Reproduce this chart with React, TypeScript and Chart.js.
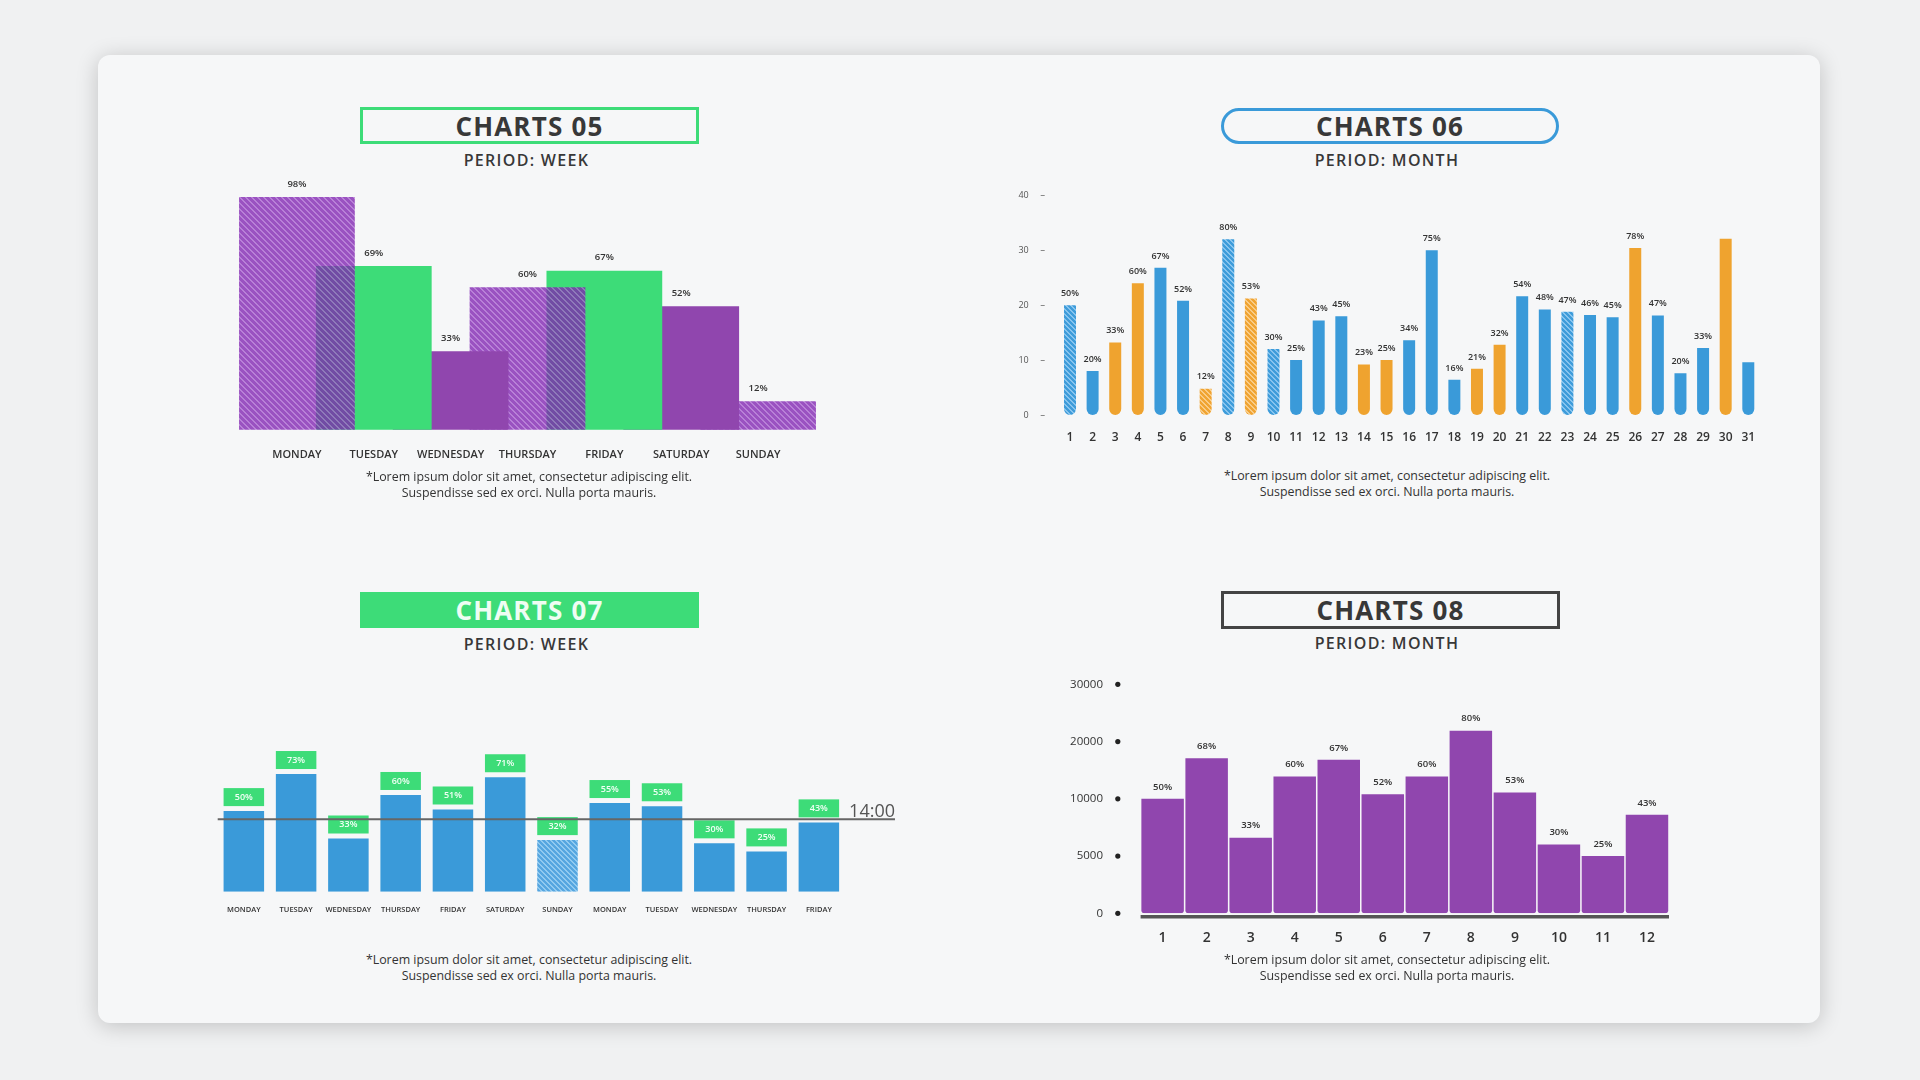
import React, { useEffect, useRef } from "react";
import { Chart, registerables } from "chart.js";

Chart.register(...registerables);

const FONT = "'Open Sans', 'Noto Sans', sans-serif";

// ---------- CHARTS 05 ----------
const days05 = ["MONDAY", "TUESDAY", "WEDNESDAY", "THURSDAY", "FRIDAY", "SATURDAY", "SUNDAY"];
const values05 = [98, 69, 33, 60, 67, 52, 12];
const kind05 = ["hatch", "green", "solid", "hatch", "green", "solid", "hatch"];

// ---------- CHARTS 06 ----------
const days06 = ["1", "2", "3", "4", "5", "6", "7", "8", "9", "10", "11", "12", "13", "14", "15", "16", "17", "18", "19", "20", "21", "22", "23", "24", "25", "26", "27", "28", "29", "30", "31"];
const values06 = [20, 8, 13.2, 24, 26.8, 20.8, 4.8, 32, 21.2, 12, 10, 17.2, 18, 9.2, 10, 13.6, 30, 6.4, 8.4, 12.8, 21.6, 19.2, 18.8, 18.2, 17.8, 30.4, 18.1, 7.6, 12.2, 32.1, 9.6];
const pct06 = ["50%", "20%", "33%", "60%", "67%", "52%", "12%", "80%", "53%", "30%", "25%", "43%", "45%", "23%", "25%", "34%", "75%", "16%", "21%", "32%", "54%", "48%", "47%", "46%", "45%", "78%", "47%", "20%", "33%", "", ""];
const kind06 = ["bh", "b", "o", "o", "b", "b", "oh", "bh", "oh", "bh", "b", "b", "b", "o", "o", "b", "b", "b", "o", "o", "b", "b", "bh", "b", "b", "o", "b", "b", "b", "o", "b"];
const yTicks06 = [0, 10, 20, 30, 40];

// ---------- CHARTS 07 ----------
const days07 = ["MONDAY", "TUESDAY", "WEDNESDAY", "THURSDAY", "FRIDAY", "SATURDAY", "SUNDAY", "MONDAY", "TUESDAY", "WEDNESDAY", "THURSDAY", "FRIDAY"];
const values07 = [50, 73, 33, 60, 51, 71, 32, 55, 53, 30, 25, 43];
const kind07 = ["b", "b", "b", "b", "b", "b", "bh", "b", "b", "b", "b", "b"];
const markerValue07 = 45;
const markerLabel07 = "14:00";

// ---------- CHARTS 08 ----------
const months08 = ["1", "2", "3", "4", "5", "6", "7", "8", "9", "10", "11", "12"];
const values08 = [10000, 17100, 6600, 13900, 16800, 10800, 13900, 21900, 11100, 6000, 5000, 8600];
const pct08 = ["50%", "68%", "33%", "60%", "67%", "52%", "60%", "80%", "53%", "30%", "25%", "43%"];
const yTicks08 = [0, 5000, 10000, 20000, 30000];

const FOOT1 = "*Lorem ipsum dolor sit amet, consectetur adipiscing elit.";
const FOOT2 = "Suspendisse sed ex orci. Nulla porta mauris.";

const GREEN = "#3ddc78";
const BLUE = "#3a9ad9";
const ORANGE = "#efa32f";
const PURPLE = "#9046ae";

function hatch(base: number[], stripe: number[], size: number, w: number) {
  const c = document.createElement("canvas");
  c.width = size;
  c.height = size;
  const g = c.getContext("2d")!;
  const img = g.createImageData(size, size);
  for (let y = 0; y < size; y++) {
    for (let x = 0; x < size; x++) {
      const on = (((x - y) % size) + size) % size < w;
      const col = on ? stripe : base;
      const i = (y * size + x) * 4;
      img.data[i] = col[0];
      img.data[i + 1] = col[1];
      img.data[i + 2] = col[2];
      img.data[i + 3] = Math.round(col[3] * 255);
    }
  }
  g.putImageData(img, 0, 0);
  return g.createPattern(c, "repeat")!;
}

// piecewise position on the uneven axis of chart 08
function pos08(v: number) {
  for (let i = 0; i < yTicks08.length - 1; i++) {
    const a = yTicks08[i];
    const b = yTicks08[i + 1];
    if (v <= b) return i + (v - a) / (b - a);
  }
  return yTicks08.length - 1;
}

const noPad = (s: any) => {
  s.paddingLeft = 0;
  s.paddingRight = 0;
  s.paddingTop = 0;
  s.paddingBottom = 0;
};

export default function App() {
  const r5 = useRef<HTMLCanvasElement>(null);
  const r6 = useRef<HTMLCanvasElement>(null);
  const r7 = useRef<HTMLCanvasElement>(null);
  const r8 = useRef<HTMLCanvasElement>(null);

  useEffect(() => {
    Chart.defaults.font.family = FONT;
    const charts: Chart[] = [];

    // ----- Chart 05 -----
    const purpleHatch = hatch([128, 36, 177, 0.78], [166, 95, 205, 0.78], 6, 2);
    const color05 = (k: string) => (k === "hatch" ? purpleHatch : k === "green" ? GREEN : PURPLE);
    charts.push(
      new Chart(r5.current!, {
        type: "bar",
        data: {
          labels: days05,
          datasets: days05.map((_, i) => ({
            data: values05.map((v, j) => (j === i ? v : null)),
            backgroundColor: color05(kind05[i]),
            borderWidth: 0,
            grouped: false,
            barPercentage: 1.506,
            categoryPercentage: 1,
            clip: false,
          })) as any,
        },
        options: {
          responsive: false,
          animation: false,
          layout: { padding: { left: 58.5, right: 63.5, top: 22.3, bottom: 0 } },
          plugins: { legend: { display: false }, tooltip: { enabled: false } },
          scales: {
            x: {
              grid: { display: false, drawTicks: false },
              border: { display: false },
              ticks: { padding: 19, color: "#333", font: { size: 11, weight: "600" } as any, maxRotation: 0, autoSkip: false },
              afterFit: (s: any) => {
                s.height = 40.3;
                noPad(s);
              },
            },
            y: { display: false, min: 0, max: 100 },
          },
        } as any,
        plugins: [
          {
            id: "lab05",
            afterDatasetsDraw(chart: any) {
              const ctx = chart.ctx;
              ctx.save();
              ctx.font = `600 9.5px ${FONT}`;
              ctx.fillStyle = "#333";
              ctx.textAlign = "center";
              ctx.textBaseline = "middle";
              values05.forEach((v, i) => {
                const el = chart.getDatasetMeta(i).data[i];
                if (el) ctx.fillText(`${v}%`, el.x, el.y - 13);
              });
              ctx.restore();
            },
          },
        ],
      })
    );

    // ----- Chart 06 -----
    const blueHatch = hatch([62, 156, 218, 1], [135, 196, 238, 1], 5, 2);
    const orangeHatch = hatch([240, 164, 50, 1], [249, 204, 135, 1], 5, 2);
    const color06 = (k: string) => (k === "b" ? BLUE : k === "o" ? ORANGE : k === "bh" ? blueHatch : orangeHatch);
    charts.push(
      new Chart(r6.current!, {
        type: "bar",
        data: {
          labels: days06,
          datasets: [
            {
              data: values06,
              backgroundColor: kind06.map(color06),
              borderWidth: 0,
              borderSkipped: false,
              borderRadius: { topLeft: 0, topRight: 0, bottomLeft: 6, bottomRight: 6 },
              barPercentage: 0.53,
              categoryPercentage: 1,
              clip: false,
            } as any,
          ],
        },
        options: {
          responsive: false,
          animation: false,
          layout: { padding: { left: 0, right: 20.4, top: 15.3, bottom: 0 } },
          plugins: { legend: { display: false }, tooltip: { enabled: false } },
          scales: {
            x: {
              grid: { display: false, drawTicks: false },
              border: { display: false },
              ticks: { padding: 15.2, color: "#333", font: { size: 12, weight: "600" } as any, maxRotation: 0, autoSkip: false },
              afterFit: (s: any) => {
                s.height = 45;
                noPad(s);
              },
            },
            y: {
              min: yTicks06[0],
              max: yTicks06[yTicks06.length - 1],
              grid: { display: false, drawTicks: false },
              border: { display: false },
              ticks: { stepSize: 10, padding: 30, color: "#555", font: { size: 9, weight: "500" } as any },
              afterFit: (s: any) => {
                s.width = 58.7;
                noPad(s);
              },
            },
          },
        } as any,
        plugins: [
          {
            id: "lab06",
            afterDatasetsDraw(chart: any) {
              const ctx = chart.ctx;
              ctx.save();
              ctx.font = `600 9px ${FONT}`;
              ctx.fillStyle = "#333";
              ctx.textAlign = "center";
              ctx.textBaseline = "middle";
              chart.getDatasetMeta(0).data.forEach((el: any, i: number) => {
                if (pct06[i]) ctx.fillText(pct06[i], el.x, el.y - 11.7);
              });
              const ys = chart.scales.y;
              const left = chart.chartArea.left;
              ctx.strokeStyle = "#888";
              ctx.lineWidth = 1;
              ys.ticks.forEach((t: any) => {
                const py = Math.round(ys.getPixelForValue(t.value)) + 0.5;
                ctx.beginPath();
                ctx.moveTo(left - 18, py);
                ctx.lineTo(left - 14, py);
                ctx.stroke();
              });
              ctx.restore();
            },
          },
        ],
      })
    );

    // ----- Chart 07 -----
    const lightBlueHatch = hatch([86, 166, 224, 1], [145, 202, 240, 1], 5, 2);
    charts.push(
      new Chart(r7.current!, {
        type: "bar",
        data: {
          labels: days07,
          datasets: [
            {
              data: values07,
              backgroundColor: kind07.map((k) => (k === "bh" ? lightBlueHatch : BLUE)),
              borderWidth: 0,
              barPercentage: 0.775,
              categoryPercentage: 1,
            } as any,
          ],
        },
        options: {
          responsive: false,
          animation: false,
          layout: { padding: { left: 12.7, right: 70, top: 10.5, bottom: 0 } },
          plugins: { legend: { display: false }, tooltip: { enabled: false } },
          scales: {
            x: {
              grid: { display: false, drawTicks: false },
              border: { display: false },
              ticks: { padding: 13.8, color: "#333", font: { size: 7.5, weight: "600" } as any, maxRotation: 0, autoSkip: false },
              afterFit: (s: any) => {
                s.height = 28.3;
                noPad(s);
              },
            },
            y: { display: false, min: 0, max: 100 },
          },
        } as any,
        plugins: [
          {
            id: "lab07",
            afterDatasetsDraw(chart: any) {
              const ctx = chart.ctx;
              ctx.save();
              chart.getDatasetMeta(0).data.forEach((el: any, i: number) => {
                const w = el.width;
                const bottom = el.y - 5;
                ctx.fillStyle = GREEN;
                ctx.fillRect(el.x - w / 2, bottom - 18, w, 18);
                ctx.fillStyle = "#f2fff6";
                ctx.font = `600 9px ${FONT}`;
                ctx.textAlign = "center";
                ctx.textBaseline = "middle";
                ctx.fillText(`${values07[i]}%`, el.x, bottom - 9);
              });
              const ys = chart.scales.y;
              const py = ys.getPixelForValue(markerValue07);
              const { left, right } = chart.chartArea;
              ctx.strokeStyle = "#666";
              ctx.lineWidth = 2;
              ctx.beginPath();
              ctx.moveTo(left, py);
              ctx.lineTo(right + 50, py);
              ctx.stroke();
              ctx.fillStyle = "#555";
              ctx.font = `400 18px ${FONT}`;
              ctx.textAlign = "right";
              ctx.textBaseline = "alphabetic";
              ctx.fillText(markerLabel07, right + 50, py - 2);
              ctx.restore();
            },
          },
        ],
      })
    );

    // ----- Chart 08 -----
    charts.push(
      new Chart(r8.current!, {
        type: "bar",
        data: {
          labels: months08,
          datasets: [
            {
              data: values08.map(pos08),
              backgroundColor: PURPLE,
              borderWidth: 0,
              borderSkipped: false,
              borderRadius: { topLeft: 0, topRight: 0, bottomLeft: 3, bottomRight: 3 },
              barPercentage: 0.965,
              categoryPercentage: 1,
            } as any,
          ],
        },
        options: {
          responsive: false,
          animation: false,
          layout: { padding: { left: 0, right: 21, top: 14.3, bottom: 0 } },
          plugins: { legend: { display: false }, tooltip: { enabled: false } },
          scales: {
            x: {
              grid: { display: false, drawTicks: false },
              border: { display: false },
              ticks: { padding: 16.6, color: "#333", font: { size: 14, weight: "600" } as any, maxRotation: 0, autoSkip: false },
              afterFit: (s: any) => {
                s.height = 46.7;
                noPad(s);
              },
            },
            y: {
              min: 0,
              max: yTicks08.length - 1,
              grid: { display: false, drawTicks: false },
              border: { display: false },
              ticks: {
                stepSize: 1,
                padding: 37.6,
                color: "#333",
                font: { size: 11.5, weight: "500" } as any,
                callback: (v: any) => String(yTicks08[v]),
              },
              afterFit: (s: any) => {
                s.width = 80.6;
                noPad(s);
              },
            },
          },
        } as any,
        plugins: [
          {
            id: "lab08",
            afterDatasetsDraw(chart: any) {
              const ctx = chart.ctx;
              ctx.save();
              ctx.font = `600 9.5px ${FONT}`;
              ctx.fillStyle = "#333";
              ctx.textAlign = "center";
              ctx.textBaseline = "middle";
              chart.getDatasetMeta(0).data.forEach((el: any, i: number) => {
                ctx.fillText(pct08[i], el.x, el.y - 12);
              });
              const ys = chart.scales.y;
              const { left, right, bottom } = chart.chartArea;
              ctx.fillStyle = "#222";
              ys.ticks.forEach((t: any) => {
                const py = ys.getPixelForValue(t.value);
                ctx.beginPath();
                ctx.arc(left - 22.8, py, 2.6, 0, Math.PI * 2);
                ctx.fill();
              });
              ctx.strokeStyle = "#555";
              ctx.lineWidth = 3.4;
              ctx.beginPath();
              ctx.moveTo(left, bottom + 3.4);
              ctx.lineTo(right, bottom + 3.4);
              ctx.stroke();
              ctx.restore();
            },
          },
        ],
      })
    );

    return () => charts.forEach((c) => c.destroy());
  }, []);

  const titleText: React.CSSProperties = {
    fontSize: 26,
    fontWeight: 700,
    letterSpacing: 1.2,
    lineHeight: 1,
  };
  const box = (left: number, top: number, w: number, h: number, extra: React.CSSProperties) => ({
    position: "absolute" as const,
    left,
    top,
    width: w,
    height: h,
    boxSizing: "border-box" as const,
    display: "flex",
    alignItems: "center",
    justifyContent: "center",
    color: "#383838",
    ...extra,
  });
  const period = (cx: number, cy: number): React.CSSProperties => ({
    position: "absolute",
    left: cx - 150,
    top: cy - 10,
    width: 300,
    height: 20,
    lineHeight: "20px",
    textAlign: "center",
    fontSize: 16,
    fontWeight: 600,
    letterSpacing: 1.3,
    color: "#383838",
  });
  const foot = (cx: number, cy: number): React.CSSProperties => ({
    position: "absolute",
    left: cx - 250,
    top: cy - 7.75,
    width: 500,
    lineHeight: "15.5px",
    textAlign: "center",
    fontSize: 12.4,
    fontWeight: 500,
    color: "#333",
  });
  const cv = (left: number, top: number): React.CSSProperties => ({ position: "absolute", left, top });

  return (
    <div
      style={{
        position: "absolute",
        left: 0,
        top: 0,
        width: 1920,
        height: 1080,
        overflow: "hidden",
        background: "#f0f1f2",
        fontFamily: FONT,
      }}
    >
      <div
        style={{
          position: "absolute",
          left: 98,
          top: 55,
          width: 1722,
          height: 968,
          borderRadius: 12,
          background: "#f6f7f8",
          boxShadow: "0 3px 22px rgba(0,0,0,0.2)",
        }}
      />

      {/* Titles */}
      <div style={box(360, 107, 339, 37, { border: `3px solid ${GREEN}` })}>
        <span style={titleText}>CHARTS 05</span>
      </div>
      <div style={period(526.5, 159.7)}>PERIOD: WEEK</div>

      <div style={box(1221, 108, 338, 36, { border: `3px solid ${BLUE}`, borderRadius: 18 })}>
        <span style={titleText}>CHARTS 06</span>
      </div>
      <div style={period(1387, 160)}>PERIOD: MONTH</div>

      <div style={box(360, 592, 339, 36, { background: GREEN, color: "#effdf3" })}>
        <span style={titleText}>CHARTS 07</span>
      </div>
      <div style={period(526.5, 644.3)}>PERIOD: WEEK</div>

      <div style={box(1221, 591, 339, 38, { border: "3px solid #444" })}>
        <span style={titleText}>CHARTS 08</span>
      </div>
      <div style={period(1387, 643.3)}>PERIOD: MONTH</div>

      {/* Charts */}
      <canvas ref={r5} width={660} height={300} style={cv(200, 170)} />
      <canvas ref={r6} width={780} height={280} style={cv(1000, 180)} />
      <canvas ref={r7} width={710} height={200} style={cv(205, 720)} />
      <canvas ref={r8} width={630} height={290} style={cv(1060, 670)} />

      {/* Footnotes */}
      <div style={foot(529, 477)}>{FOOT1}<br />{FOOT2}</div>
      <div style={foot(1387, 476)}>{FOOT1}<br />{FOOT2}</div>
      <div style={foot(529, 960)}>{FOOT1}<br />{FOOT2}</div>
      <div style={foot(1387, 960)}>{FOOT1}<br />{FOOT2}</div>
    </div>
  );
}
